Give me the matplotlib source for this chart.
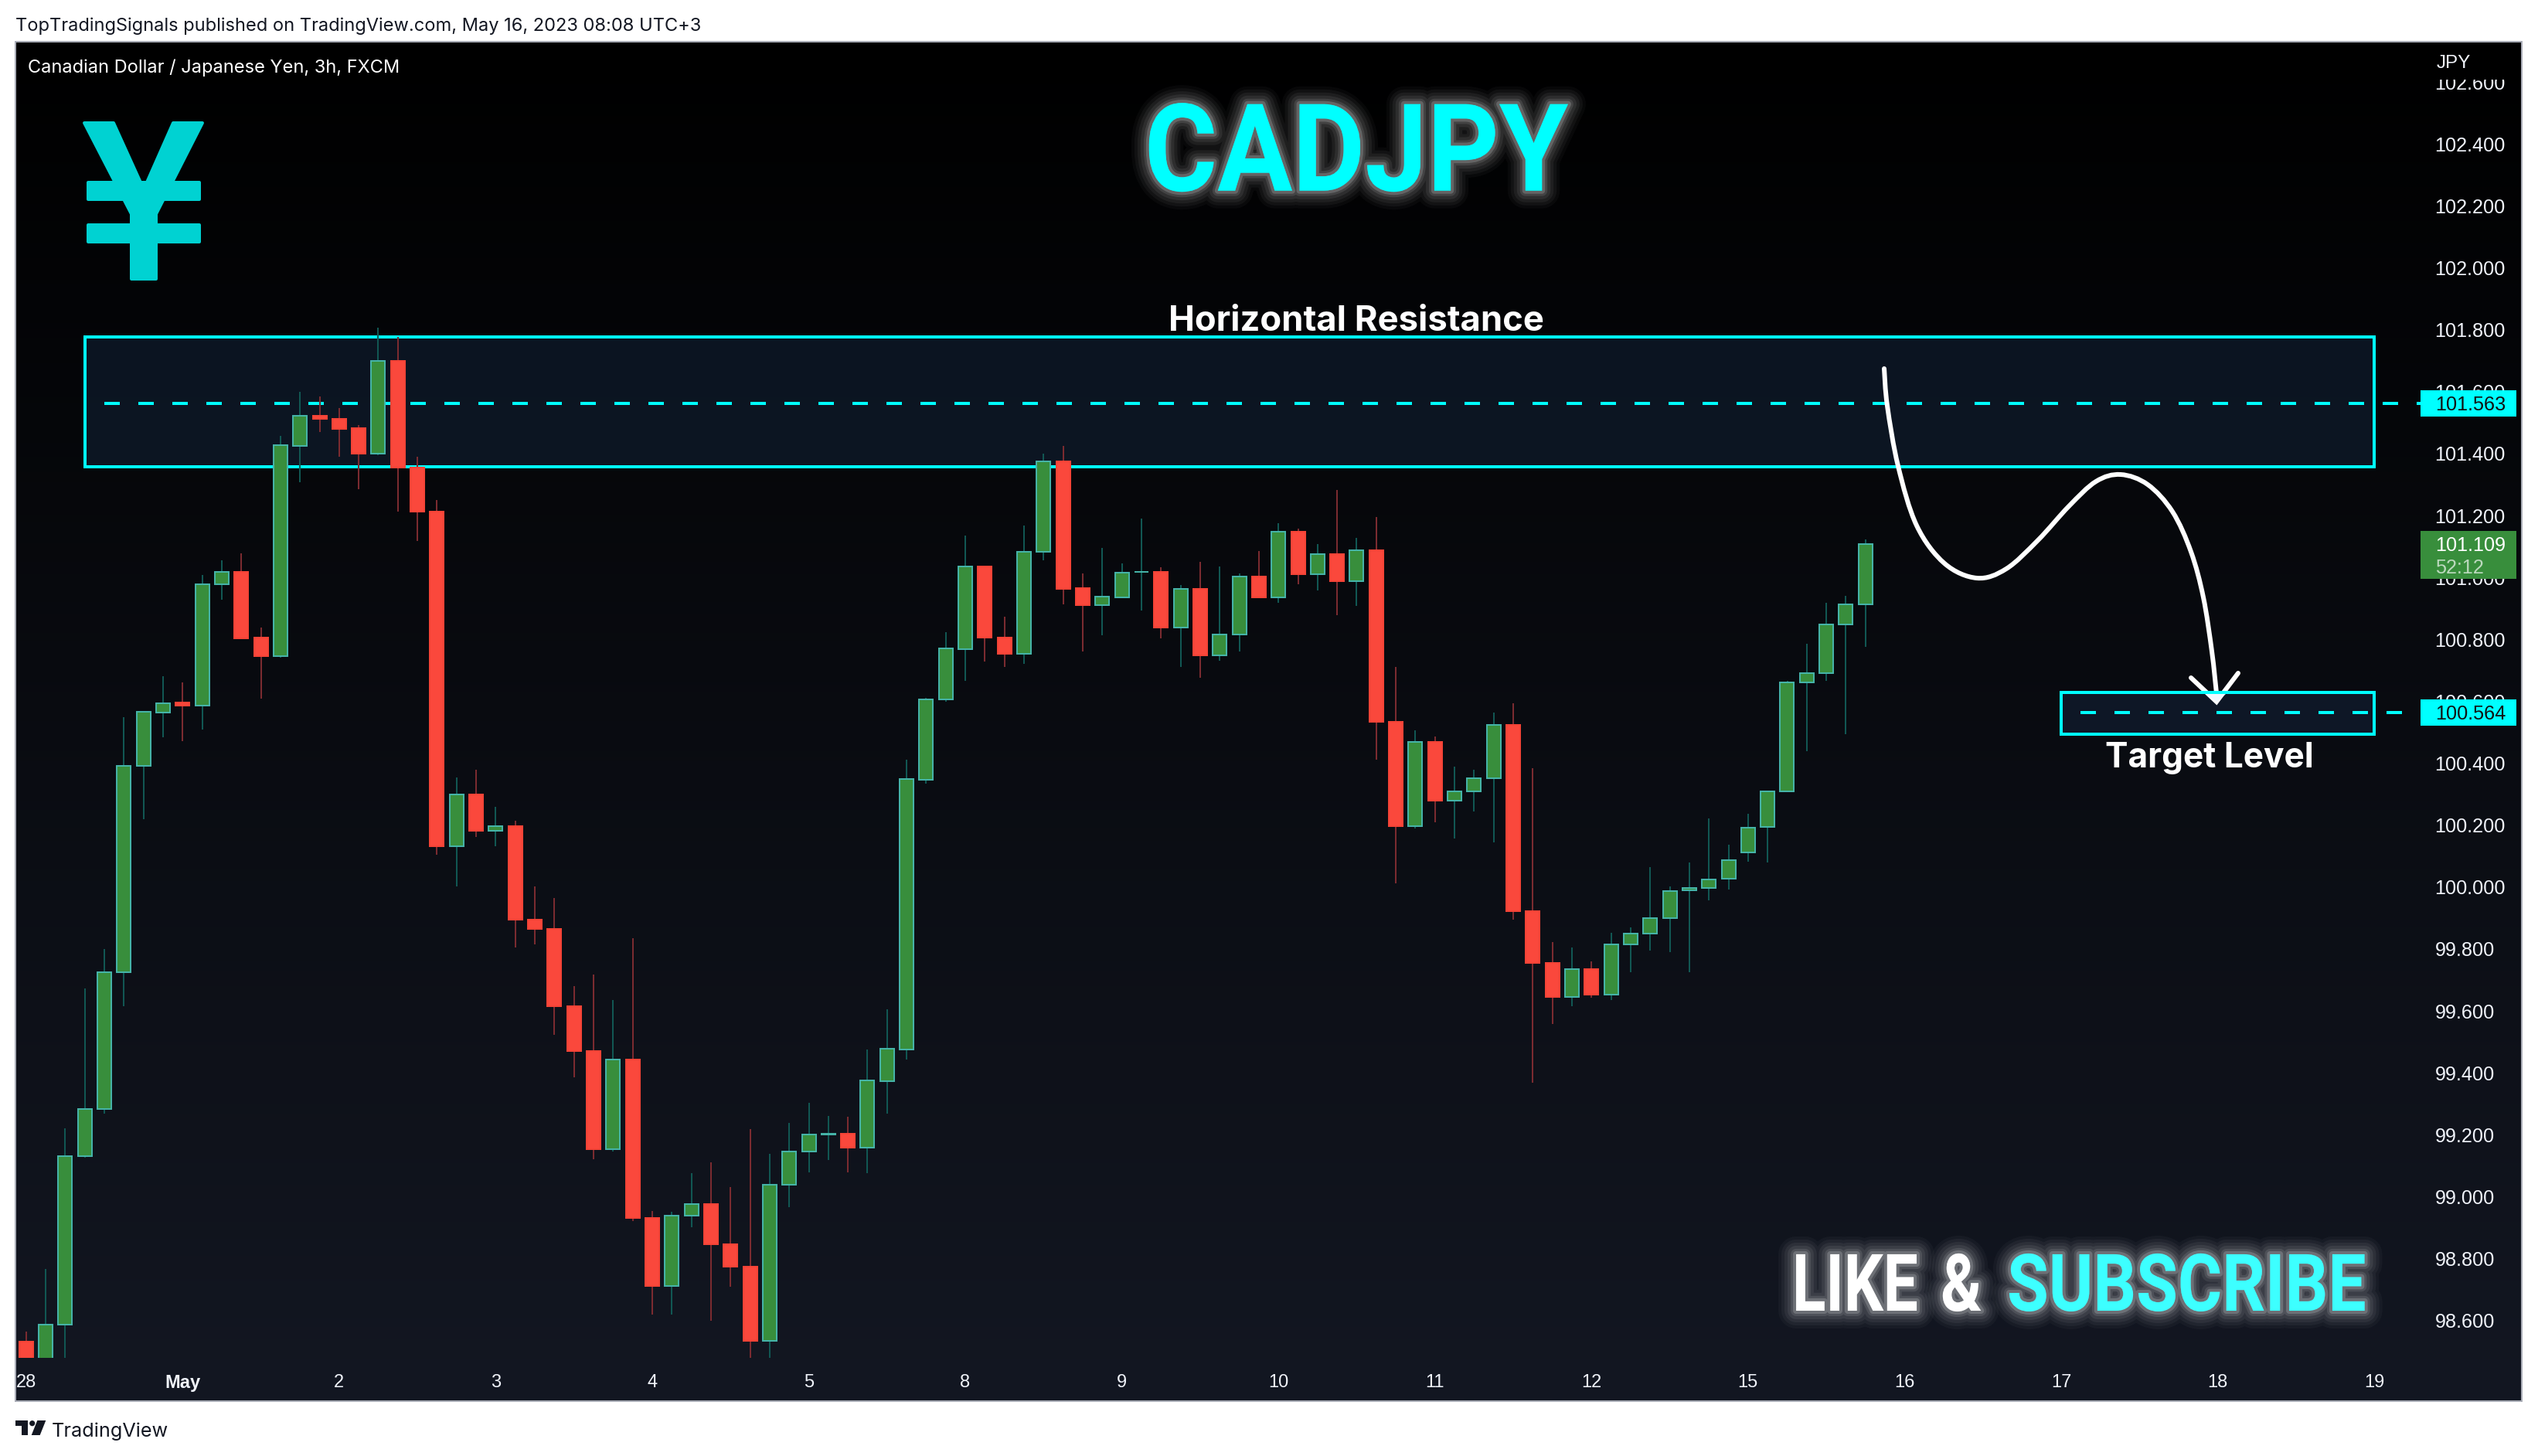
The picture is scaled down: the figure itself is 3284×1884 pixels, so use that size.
import numpy as np
import matplotlib
matplotlib.use("Agg")
import matplotlib.pyplot as plt
import matplotlib.patheffects as pe
from matplotlib.path import Path
from matplotlib.patches import Rectangle, Polygon, PathPatch, Circle
from matplotlib.transforms import Affine2D, blended_transform_factory

# ---------- data (CADJPY 3h candles) ----------
opens = [98.531, 98.42, 98.586, 99.130, 99.284, 99.726, 100.392, 100.565, 100.595, 100.587,
         100.977, 101.019, 100.805, 100.745, 101.426, 101.522, 101.512, 101.482, 101.401, 101.699,
         101.355, 101.212, 100.131, 100.298, 100.181, 100.198, 99.896, 99.866, 99.616, 99.471,
         99.154, 99.444, 98.930, 98.711, 98.938, 98.977, 98.847, 98.773, 98.535, 99.039,
         99.145, 99.201, 99.203, 99.158, 99.373, 99.475, 100.347, 100.605, 100.769, 101.036,
         100.807, 100.754, 101.083, 101.374, 100.965, 100.911, 100.936, 101.017, 101.019, 100.839,
         100.962, 100.749, 100.817, 101.002, 100.936, 101.149, 101.011, 101.075, 100.989, 101.089,
         100.535, 100.198, 100.468, 100.280, 100.309, 100.352, 100.525, 99.923, 99.754, 99.644,
         99.734, 99.653, 99.816, 99.851, 99.899, 99.990, 99.998, 100.026, 100.113, 100.195,
         100.308, 100.662, 100.690, 100.849, 100.912]
highs = [98.564, 98.767, 99.220, 99.672, 99.800, 100.549, 100.566, 100.681, 100.662, 101.008,
         101.056, 101.078, 100.839, 101.457, 101.600, 101.585, 101.547, 101.493, 101.807, 101.776,
         101.390, 101.251, 100.354, 100.380, 100.259, 100.214, 100.003, 99.965, 99.680, 99.717,
         99.635, 99.835, 98.954, 98.952, 99.076, 99.111, 99.030, 99.218, 99.139, 99.238,
         99.303, 99.261, 99.258, 99.475, 99.605, 100.412, 100.61, 100.823, 101.135, 101.036,
         100.873, 101.167, 101.399, 101.424, 101.012, 101.095, 101.045, 101.190, 101.032, 100.975,
         101.051, 101.035, 101.012, 101.085, 101.175, 101.158, 101.108, 101.282, 101.127, 101.195,
         100.711, 100.506, 100.486, 100.389, 100.378, 100.563, 100.593, 100.384, 99.823, 99.804,
         99.760, 99.852, 99.870, 100.065, 100.001, 100.080, 100.221, 100.137, 100.237, 100.312,
         100.666, 100.786, 100.918, 100.941, 101.122]
lows = [98.35, 98.38, 98.478, 99.127, 99.267, 99.616, 100.220, 100.485, 100.472, 100.508,
        100.927, 100.804, 100.608, 100.742, 101.307, 101.469, 101.391, 101.286, 101.396, 101.214,
        101.119, 100.105, 100.003, 100.163, 100.131, 99.806, 99.816, 99.522, 99.385, 99.122,
        99.145, 98.922, 98.620, 98.618, 98.901, 98.600, 98.708, 98.47, 98.47, 98.967,
        99.078, 99.118, 99.078, 99.076, 99.268, 99.443, 100.333, 100.599, 100.666, 100.728,
        100.711, 100.720, 101.055, 100.914, 100.760, 100.813, 100.936, 100.893, 100.804, 100.711,
        100.676, 100.732, 100.760, 100.936, 100.919, 100.979, 100.959, 100.879, 100.908, 100.412,
        100.012, 100.190, 100.210, 100.158, 100.243, 100.145, 99.894, 99.368, 99.559, 99.614,
        99.642, 99.634, 99.726, 99.796, 99.791, 99.726, 99.956, 99.991, 100.081, 100.079,
        100.308, 100.440, 100.667, 100.495, 100.777]
closes = [98.40, 98.586, 99.130, 99.284, 99.726, 100.392, 100.566, 100.593, 100.586, 100.978,
          101.019, 100.804, 100.745, 101.427, 101.522, 101.512, 101.481, 101.401, 101.699, 101.354,
          101.212, 100.131, 100.298, 100.181, 100.198, 99.896, 99.866, 99.616, 99.471, 99.154,
          99.444, 98.930, 98.711, 98.938, 98.977, 98.847, 98.773, 98.535, 99.039, 99.145,
          99.200, 99.203, 99.158, 99.375, 99.478, 100.349, 100.605, 100.770, 101.036, 100.806,
          100.754, 101.084, 101.374, 100.964, 100.911, 100.937, 101.016, 101.019, 100.839, 100.962,
          100.749, 100.817, 101.002, 100.936, 101.149, 101.011, 101.075, 100.989, 101.089, 100.534,
          100.198, 100.468, 100.280, 100.310, 100.352, 100.525, 99.923, 99.754, 99.644, 99.734,
          99.653, 99.816, 99.851, 99.899, 99.988, 99.998, 100.025, 100.088, 100.193, 100.308,
          100.662, 100.690, 100.849, 100.912, 101.109]

date_ticks = [0, 8, 16, 24, 32, 40, 48, 56, 64, 72, 80, 88, 96, 104, 112, 120]
date_labels = ['28', 'May', '2', '3', '4', '5', '8', '9', '10', '11', '12', '15', '16', '17', '18', '19']
price_ticks = [98.6, 98.8, 99.0, 99.2, 99.4, 99.6, 99.8, 100.0, 100.2, 100.4, 100.6,
               100.8, 101.0, 101.2, 101.4, 101.6, 101.8, 102.0, 102.2, 102.4, 102.6]
resistance_zone = (101.358, 101.777)
resistance_span = (3.0, 120.0)
resistance_level = 101.563
target_zone = (100.495, 100.628)
target_span = (104.0, 120.0)
target_level = 100.564
last_price = 101.109

# ---------- styles ----------
W, H = 3284, 1884
PX = 0.72
PANEL = (20, 54, 3263, 1813)
PANE_R, PANE_B = 3132, 1757
CY = '#00ffff'
G_FILL, G_EDGE, G_WICK = '#388e3c', '#45b3a8', '#115753'
R_FILL, R_EDGE, R_WICK = '#fa483c', '#f44336', '#7b2b30'
HEAVY = 'Roboto'
LAB = 'Liberation Sans'
UI = 'Inter'
plt.rcParams['lines.scale_dashes'] = False

fig = plt.figure(figsize=(W / 100, H / 100), dpi=100, facecolor='white')


def px_axes(z):
    a = fig.add_axes([0, 0, 1, 1], zorder=z)
    a.set_xlim(0, W)
    a.set_ylim(H, 0)
    a.axis('off')
    return a


bg = px_axes(0)
top = px_axes(3)

# panel gradient + border
grad = np.linspace(0, 1, 256)[:, None, None] * np.array([0x13, 0x17, 0x22]) / 255
bg.imshow(grad, extent=(PANEL[0], PANEL[2], PANEL[3], PANEL[1]), aspect='auto',
          interpolation='bilinear', zorder=1)
bg.set_xlim(0, W)
bg.set_ylim(H, 0)
bg.add_patch(Rectangle((PANEL[0], PANEL[1]), PANEL[2] - PANEL[0], PANEL[3] - PANEL[1],
                       fill=False, ec='#a9acb6', lw=2 * PX, zorder=2))

# candle pane: x in candle index, y in price
x_scale = 25.32
x0 = 33.7
y_scale = 400.6
ax = fig.add_axes([PANEL[0] / W, 1 - PANE_B / H, (PANE_R - PANEL[0]) / W, (PANE_B - PANEL[1]) / H], zorder=1)
ax.patch.set_alpha(0)
ax.set_xlim((PANEL[0] - x0) / x_scale, (PANE_R - x0) / x_scale)
ax.set_ylim(102.4 - (PANE_B - 186.4) / y_scale, 102.4 + (186.4 - PANEL[1]) / y_scale)
for s in ax.spines.values():
    s.set_visible(False)

ax.yaxis.tick_right()
ax.set_yticks(price_ticks)
ax.set_yticklabels([f'{v:.3f}' for v in price_ticks], fontfamily=LAB, fontsize=18.2, color='#f0f3fa')
ax.set_xticks(date_ticks)
ax.set_xticklabels(date_labels, fontfamily=LAB, fontsize=17, color='#f0f3fa')
ax.tick_params(axis='y', length=0, pad=13.3)
ax.tick_params(axis='x', length=0, pad=15)
ax.get_xticklabels()[1].set_fontweight('bold')

# zones and levels
for (lo, hi), (a, b) in ((resistance_zone, resistance_span), (target_zone, target_span)):
    ax.add_patch(Rectangle((a, lo), b - a, hi - lo, fc=(0x15 / 255, 0x26 / 255, 0x3f / 255, 0.47),
                           ec=CY, lw=4 * PX, zorder=1, clip_on=False))
dash = (0, (20 * PX, 24 * PX))
ax.plot([4.0, ax.get_xlim()[1]], [resistance_level] * 2, color=CY, lw=4 * PX, ls=dash, zorder=1.5,
        dash_capstyle='butt')
ax.plot([105.0, ax.get_xlim()[1]], [target_level] * 2, color=CY, lw=4 * PX, ls=dash, zorder=1.5,
        dash_capstyle='butt')

# candles
idx = np.arange(len(opens))
o, h, l, c = map(np.array, (opens, highs, lows, closes))
up = c >= o
ax.vlines(idx[up], l[up], h[up], color=G_WICK, lw=2 * PX, zorder=2)
ax.vlines(idx[~up], l[~up], h[~up], color=R_WICK, lw=2 * PX, zorder=2)
bw = 18 / x_scale
ax.bar(idx[up], (c - o)[up], bottom=o[up], width=bw, color=G_FILL, edgecolor=G_EDGE, linewidth=2 * PX, zorder=2.2)
ax.bar(idx[~up], (o - c)[~up], bottom=c[~up], width=bw, color=R_FILL, edgecolor=R_EDGE, linewidth=2 * PX, zorder=2.2)

# price-scale labels
blend = blended_transform_factory(top.transData, ax.transData)


def price_label(price, up_px, down_px, fc):
    ax.add_patch(Rectangle((PANE_R, price - down_px / y_scale), 124, (up_px + down_px) / y_scale, fc=fc, ec='none',
                           transform=blend, clip_on=False, zorder=5))


price_label(resistance_level, 17, 17, CY)
price_label(target_level, 17, 17, CY)
price_label(last_price, 17, 45, G_FILL)
for p, col in ((resistance_level, '#111111'), (target_level, '#111111'), (last_price, '#ffffff')):
    ax.text(3150.7, p, f'{p:.3f}', transform=blend, family=LAB, fontsize=18.2, color=col,
            va='center_baseline', ha='left', zorder=6, clip_on=False)
ax.text(3150.7, last_price - 28.5 / y_scale, '52:12', transform=blend, family=LAB, fontsize=18.2, color='#bcd9be',
        va='center_baseline', ha='left', zorder=6, clip_on=False)

# the scale caption hides the top of the highest tick label
top.add_patch(Rectangle((3140, 56), 118, 47, fc='#000000', ec='none', zorder=0.5))

# ---------- texts ----------
top.text(20, 40, 'TopTradingSignals published on TradingView.com, May 16, 2023 08:08 UTC+3',
         family=UI, fontsize=17, color='#131722', va='baseline')
top.text(36, 94, 'Canadian Dollar / Japanese Yen, 3h, FXCM', family=UI, fontsize=17, color='#ffffff', va='baseline')
top.text(3152.7, 88, 'JPY', family=LAB, fontsize=17.5, color='#f0f3fa', va='baseline')
top.text(67, 1859, 'TradingView', family=UI, fontsize=18.2, color='#131722', va='baseline')


class GlowSqueeze(pe.AbstractPathEffect):
    """Draw a soft halo and the glyphs, narrowed horizontally about one x pixel."""

    def __init__(self, anchor, sx, strength=1.0):
        super().__init__()
        self.anchor, self.sx = anchor, sx
        self.inner = [pe.Stroke(linewidth=lw * PX, foreground='white', alpha=a * strength)
                      for lw, a in ((46, .03), (38, .045), (30, .055), (22, .07), (14, .1), (8, .18))]
        self.inner.append(pe.Normal())

    def draw_path(self, renderer, gc, tpath, affine, rgbFace=None):
        squeezed = affine + Affine2D().translate(-self.anchor, 0).scale(self.sx, 1).translate(self.anchor, 0)
        for e in self.inner:
            e.draw_path(renderer, gc, tpath, squeezed, rgbFace)


t = top.text(1755, 246.7, 'CADJPY', family=HEAVY, fontweight='bold', fontsize=113.4, color=CY, ha='center',
             va='baseline')
t.set_path_effects([GlowSqueeze(1755, 0.916)])
for s, x, sx, col in (('LIKE', 2319, 0.78, '#ffffff'), ('&', 2511, 0.79, '#ffffff'),
                      ('SUBSCRIBE', 2597, 0.851, '#3dffff')):
    t = top.text(x, 1696, s, family=HEAVY, fontweight='bold', fontsize=74, color=col, ha='left', va='baseline')
    t.set_path_effects([GlowSqueeze(x, sx)])
top.text(1755, 428, 'Horizontal Resistance', family=UI, fontweight='bold', fontsize=32.7, color='white', ha='center',
         va='baseline')
top.text(2859, 993, 'Target Level', family=UI, fontweight='bold', fontsize=31.8, color='white', ha='center',
         va='baseline')

# ---------- drawings in pixel coordinates ----------
curve = np.array([(2438, 477), (2442, 525), (2456, 603), (2480, 680), (2516, 729), (2558, 748), (2596, 736),
                  (2637, 699), (2677, 655), (2712, 623), (2744, 614), (2779, 627), (2811, 662), (2835, 714),
                  (2851, 773), (2862, 843), (2868, 897)], float)
verts, codes = [curve[0]], [Path.MOVETO]
for i in range(len(curve) - 1):
    p0 = curve[max(i - 1, 0)]
    p1, p2 = curve[i], curve[i + 1]
    p3 = curve[min(i + 2, len(curve) - 1)]
    verts += [p1 + (p2 - p0) / 6, p2 - (p3 - p1) / 6, p2]
    codes += [Path.CURVE4] * 3
top.add_patch(PathPatch(Path(verts, codes), fc='none', ec='white', lw=6 * PX, capstyle='round', zorder=2))
top.plot([2835, 2868, 2896], [877, 908, 871], color='white', lw=6 * PX, solid_capstyle='round',
         solid_joinstyle='miter', zorder=2)
top.add_patch(Polygon([(2855, 898), (2880, 898), (2868, 908)], fc='#f0f8ff', ec='none', zorder=2.1))
# target box top edge stays above the arrow stem
top.plot([2840, 2890], [896, 896], color=CY, lw=4 * PX, zorder=2.05)

# yen icon
YEN = '#00d2d2'
kw = dict(fc=YEN, ec=YEN, lw=4 * PX, joinstyle='round', zorder=2)
top.add_patch(Polygon([(109, 159), (147, 159), (186, 245), (224, 159), (262, 159), (202, 277), (202, 361),
                       (170, 361), (170, 277)], **kw))
top.add_patch(Rectangle((114, 236), 144, 22, **kw))
top.add_patch(Rectangle((114, 291), 144, 22, **kw))

# TradingView logo
LOGO = '#131722'
top.add_patch(Polygon([(20, 1838), (36, 1838), (36, 1857), (27.5, 1857), (27.5, 1845), (20, 1845)], fc=LOGO, ec='none'))
top.add_patch(Circle((41.7, 1841.7), 3.6, fc=LOGO, ec='none'))
top.add_patch(Polygon([(48.3, 1838), (59.3, 1838), (51.7, 1857), (40.7, 1857)], fc=LOGO, ec='none'))

fig.savefig('out.png', dpi=100, facecolor='white')
